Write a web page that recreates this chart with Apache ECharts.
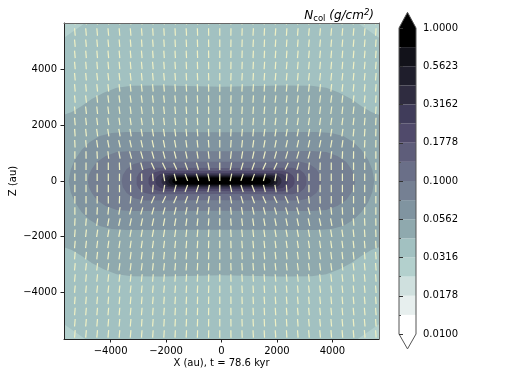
<!DOCTYPE html>
<html>
<head>
<meta charset="utf-8">
<style>
  html, body { margin: 0; padding: 0; background: #fff; }
  #chart { width: 509px; height: 368px; }
</style>
</head>
<body>
<div id="chart"></div>
<script src="https://cdn.jsdelivr.net/npm/echarts@6/dist/echarts.min.js"></script>
<script>
const AXIS_LIMIT = 5680
const axisTicks = [-4000, -2000, 0, 2000, 4000]

// colour bar, bottom band first
const barColors = ['#ffffff', '#e7efee', '#cfe0de', '#b3d0cd', '#a2c1c1', '#8fa9ae', '#8094a0', '#758093',
  '#6a6f88', '#5e5d7a', '#504a6b', '#403c5a', '#2f2c40', '#1f1e2c', '#12121a', '#000000']
const barLabels = ['0.0100', '0.0178', '0.0316', '0.0562', '0.1000', '0.1778', '0.3162', '0.5623', '1.0000']

// filled contours, outermost first: one quarter of each outline in au, [x, z]
const contourColors = ['#a2c1c1', '#8fa9ae', '#8094a0', '#758093', '#6a6f88', '#5e5d7a', '#504a6b',
  '#403c5a', '#2f2c40', '#1f1e2c', '#12121a', '#000000']
const contourOutlines = [
  [[0, 6500], [4000, 6500], [4900, 5690], [5680, 5150], [6500, 4000], [6500, 0]],
  [[0, 3390], [2160, 3430], [3240, 3420], [3780, 3350], [4250, 3170], [4680, 2950], [5040, 2700], [5400, 2480], [5680, 2380], [6300, 1800], [6300, 0]],
  [[0, 1750], [3420, 1760], [3960, 1730], [4390, 1620], [4750, 1400], [5040, 1120], [5290, 760], [5440, 400], [5510, 0]],
  [[0, 1070], [3240, 1080], [3780, 1040], [4180, 900], [4500, 680], [4680, 430], [4790, 220], [4820, 0]],
  [[0, 690], [2810, 700], [3170, 610], [3420, 430], [3560, 220], [3600, 0]],
  [[0, 470], [2550, 480], [2800, 420], [2980, 280], [3060, 130], [3060, 0]],
  [[0, 360], [2200, 370], [2430, 310], [2570, 200], [2630, 90], [2630, 0]],
  [[0, 290], [2000, 290], [2220, 240], [2340, 140], [2380, 60], [2380, 0]],
  [[0, 230], [1850, 235], [2020, 195], [2120, 120], [2160, 50], [2160, 0]],
  [[0, 190], [1780, 195], [1930, 160], [2000, 90], [2020, 40], [2020, 0]],
  [[0, 160], [1680, 160], [1820, 130], [1890, 75], [1910, 30], [1910, 0]],
  [[0, 125], [1550, 125], [1680, 100], [1750, 60], [1770, 25], [1770, 0]]
]

// vector ticks
const tickX = [-5690, -5288, -4886, -4484, -4082, -3680, -3278, -2876, -2474, -2072, -1670, -1268, -866, -464, -62,
  340, 742, 1144, 1546, 1948, 2350, 2752, 3154, 3556, 3958, 4360, 4762, 5164, 5566]
const tickZ = [5759, 5357, 4955, 4553, 4151, 3749, 3347, 2945, 2543, 2141, 1739, 1337, 935, 533, 131,
  -271, -673, -1075, -1477, -1879, -2281, -2683, -3085, -3487, -3889, -4291, -4693, -5095, -5497]
// tilt from vertical in degrees, row = distance from midplane, column = distance from centre column
const tickTilt = [
  [0, 12, 18, 20, 15, 10, 5, 1, 0, 0, 0, 0, 0, 0, 0],
  [0, 10, 16, 20, 24, 25, 24, 15, 6, 2, 0, 0, 0, 0, 0],
  [0, 6, 9, 12, 14, 15, 16, 16, 15, 10, 6, 3, 1, 0, 0],
  [0, 4, 6, 8, 10, 11, 12, 12, 12, 12, 10, 8, 5, 3, 1],
  [0, 3, 5, 6, 8, 9, 10, 10, 10, 10, 9, 8, 6, 4, 2],
  [0, 2, 4, 5, 6, 7, 8, 8, 8, 8, 8, 7, 6, 5, 3],
  [0, 2, 3, 4, 5, 6, 6, 7, 7, 7, 7, 6, 6, 5, 4],
  [0, 2, 3, 4, 5, 6, 6, 7, 7, 7, 7, 6, 6, 5, 4],
  [0, 2, 3, 4, 4, 5, 5, 6, 6, 6, 6, 6, 5, 5, 4],
  [0, 2, 3, 3, 4, 5, 5, 5, 6, 6, 6, 6, 5, 5, 4],
  [0, 1, 2, 3, 4, 4, 5, 5, 5, 5, 5, 5, 5, 5, 4],
  [0, 1, 2, 3, 3, 4, 4, 5, 5, 5, 5, 5, 5, 5, 4],
  [0, 1, 2, 3, 3, 4, 4, 4, 5, 5, 5, 5, 5, 5, 4],
  [0, 1, 2, 3, 3, 4, 4, 4, 5, 5, 5, 5, 5, 5, 4],
  [0, 1, 2, 3, 3, 4, 4, 4, 4, 5, 5, 5, 5, 4, 4]
]

const FONT = 'DejaVu Sans'
const TICK_LENGTH = 7.5

let chart = echarts.init(document.getElementById('chart'))

function minusSign (value) {
  return String(value).replace('-', '\u2212')
}

function closedOutline (quarter) {
  let pts = quarter.slice()
  quarter.slice().reverse().forEach(p => pts.push([p[0], -p[1]]))
  quarter.forEach(p => pts.push([-p[0], -p[1]]))
  quarter.slice().reverse().forEach(p => pts.push([-p[0], p[1]]))
  return pts
}

function renderContour (params, api) {
  let idx = api.value(0)
  return {
    type: 'polygon',
    shape: { points: closedOutline(contourOutlines[idx]).map(p => api.coord(p)) },
    style: { fill: contourColors[idx] }
  }
}

function renderTick (params, api) {
  let c = api.coord([api.value(0), api.value(1)])
  let t = api.value(2) * Math.PI / 180
  let dx = Math.sin(t) * TICK_LENGTH / 2
  let dy = Math.cos(t) * TICK_LENGTH / 2
  return {
    type: 'line',
    shape: { x1: c[0] - dx, y1: c[1] + dy, x2: c[0] + dx, y2: c[1] - dy },
    style: { stroke: '#eff0c4', lineWidth: 1.2 }
  }
}

function renderBarCell (params, api) {
  let i = api.value(0)
  let a = api.coord([0, i])
  let b = api.coord([1, i + 1])
  return {
    type: 'rect',
    shape: { x: a[0], y: b[1], width: b[0] - a[0], height: a[1] - b[1] },
    style: { fill: barColors[i] }
  }
}

// triangular extends and the outline of the colour bar
function renderBarFrame (params, api) {
  let pt = p => api.coord(p)
  let top = [[0, 16], [0.5, 16.82], [1, 16]].map(pt)
  let bottom = [[0, 0], [0.5, -0.78], [1, 0]].map(pt)
  let outline = [[0, 0], [0.5, -0.78], [1, 0], [1, 16], [0.5, 16.82], [0, 16]].map(pt)
  return {
    type: 'group',
    children: [
      { type: 'polygon', shape: { points: top }, style: { fill: '#000' } },
      { type: 'polygon', shape: { points: bottom }, style: { fill: '#fff' } },
      { type: 'polygon', shape: { points: outline }, style: { fill: 'none', stroke: '#555', lineWidth: 1 } }
    ]
  }
}

let tickData = []
tickZ.forEach((z, r) => {
  tickX.forEach((x, k) => {
    let row = r <= 14 ? 14 - r : r - 15
    let col = Math.abs(k - 14)
    let sign = (k < 14 ? -1 : 1) * (r <= 14 ? 1 : -1)
    tickData.push([x, z, sign * tickTilt[row][col]])
  })
})

function frameAxis (position, color) {
  return {
    type: 'value',
    position: position,
    min: -AXIS_LIMIT,
    max: AXIS_LIMIT,
    z: 5,
    axisLine: { show: true, onZero: false, lineStyle: { color: color, width: 1 } },
    axisTick: { show: false },
    axisLabel: { show: false },
    splitLine: { show: false }
  }
}

function mainAxis (base, name, nameGap) {
  return Object.assign(base, {
    name: name,
    nameLocation: 'middle',
    nameGap: nameGap,
    nameMoveOverlap: false,
    nameTextStyle: { color: '#000', fontFamily: FONT, fontSize: 10 },
    axisTick: { show: true, length: 3.5, customValues: axisTicks, lineStyle: { color: '#222' } },
    axisLabel: {
      show: true,
      color: '#000', fontFamily: FONT, fontSize: 10, margin: 7,
      customValues: axisTicks, formatter: minusSign
    }
  })
}

let option = {
  animation: false,
  backgroundColor: '#fff',
  title: {
    text: '{i|N}{s|col}{n| }{i|(g/cm}{u|2}{i|)}',
    right: 130,
    top: 3,
    textStyle: {
      fontWeight: 'normal',
      rich: {
        i: { fontFamily: FONT, fontSize: 12, fontStyle: 'italic', fontWeight: 'normal', color: '#000', lineHeight: 15 },
        n: { fontFamily: FONT, fontSize: 12, fontWeight: 'normal', color: '#000', lineHeight: 15 },
        s: { fontFamily: FONT, fontSize: 8.5, fontWeight: 'normal', color: '#000', lineHeight: 15, verticalAlign: 'bottom' },
        u: { fontFamily: FONT, fontSize: 8.5, fontStyle: 'italic', fontWeight: 'normal', color: '#000', lineHeight: 15, verticalAlign: 'top' }
      }
    }
  },
  grid: [
    { left: 64, top: 23, width: 315, height: 316, show: true, backgroundColor: '#b3d0cd', borderWidth: 0, outerBoundsMode: 'none' },
    { left: 399, top: 28, width: 17, height: 306, outerBoundsMode: 'none' }
  ],
  xAxis: [
    mainAxis(frameAxis('bottom', '#222'), 'X (au), t = 78.6 kyr', 19),
    frameAxis('top', '#666'),
    { gridIndex: 1, type: 'value', min: 0, max: 1, show: false }
  ],
  yAxis: [
    mainAxis(frameAxis('left', '#222'), 'Z (au)', 46),
    frameAxis('right', '#666'),
    {
      gridIndex: 1,
      type: 'value',
      position: 'right',
      min: 0,
      max: 16,
      interval: 2,
      z: 5,
      axisLine: { show: false },
      axisTick: { show: true, length: 4, lineStyle: { color: '#333' } },
      minorTick: { show: true, splitNumber: 2, length: 2, lineStyle: { color: '#555' } },
      splitLine: { show: false },
      minorSplitLine: { show: false },
      axisLabel: {
        color: '#000', fontFamily: FONT, fontSize: 10, margin: 7,
        formatter: v => barLabels[v / 2]
      }
    }
  ],
  series: [
    {
      type: 'custom',
      clip: true,
      xAxisIndex: 0,
      yAxisIndex: 0,
      renderItem: renderContour,
      encode: { x: -1, y: -1 },
      data: contourColors.map((c, i) => [i])
    },
    {
      type: 'custom',
      clip: true,
      z: 3,
      xAxisIndex: 0,
      yAxisIndex: 0,
      renderItem: renderTick,
      encode: { x: 0, y: 1 },
      data: tickData
    },
    {
      type: 'custom',
      xAxisIndex: 2,
      yAxisIndex: 2,
      renderItem: renderBarCell,
      encode: { x: -1, y: -1 },
      data: barColors.map((c, i) => [i])
    },
    {
      type: 'custom',
      z: 3,
      xAxisIndex: 2,
      yAxisIndex: 2,
      renderItem: renderBarFrame,
      encode: { x: -1, y: -1 },
      data: [[0]]
    }
  ]
}

chart.setOption(option)
</script>
</body>
</html>
